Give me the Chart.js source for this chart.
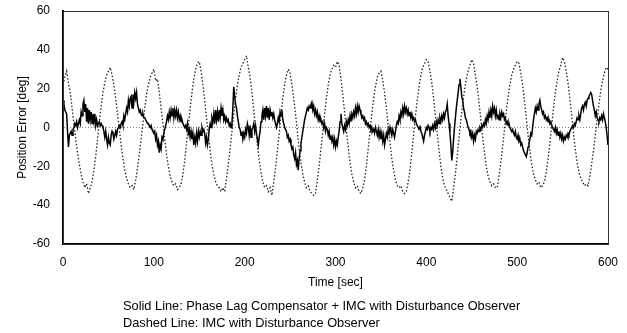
<!DOCTYPE html>
<html>
<head>
<meta charset="utf-8">
<script src="https://cdn.jsdelivr.net/npm/chart.js@4/dist/chart.umd.min.js"></script>
<style>
  body { margin: 0; background: #fff; }
  #wrap { position: relative; width: 627px; height: 333px; }
  .note { position: absolute; left: 123px; font: 12.8px "Liberation Sans", Arial, sans-serif; color: #000; line-height: 17px; white-space: nowrap; }
</style>
</head>
<body>
<div id="wrap">
  <canvas id="chart" width="627" height="333"></canvas>
  <div class="note" style="top:297px">Solid Line: Phase Lag Compensator + IMC with Disturbance Observer</div>
  <div class="note" style="top:314px">Dashed Line: IMC with Disturbance Observer</div>
</div>
<script>
// solid line: phase lag compensator + IMC with DOB, one value per second (0..600 s)
const solidV = [
  14, 12, 9, 8, 7, -2, -10, -4, -3, -2,
  -4, -1, 0, 2, 1, 3, 0, 2, 4, 2,
  8, 6, 12, 14, 8, 12, 3, 10, 2, 9,
  4, 8, 2, 7, 3, 7, 1, 4, 1, 2,
  3, 1, 2, 1, 0, -2, -5, -2, -6, -9,
  -5, -8, -9, -4, -2, -3, -6, -4, -2, -4,
  -1, 0, 1, 0, 2, 3, 1, 6, 4, 7,
  10, 8, 14, 11, 15, 16, 10, 17, 13, 18,
  15, 18, 12, 10, 8, 9, 7, 6, 7, 5,
  5, 4, 3, 2, 2, 1, 0, 1, -1, -2,
  -3, -2, -6, -4, -9, -7, -13, -9, -11, -5,
  -6, -3, -1, 1, 3, 6, 4, 8, 5, 9,
  6, 10, 5, 9, 6, 9, 5, 8, 4, 6,
  3, 4, 2, 1, 0, 1, -1, 2, -3, -1,
  -5, -2, -6, -3, -9, -5, -8, -3, -7, -2,
  -5, -2, -4, 0, -2, -1, -3, -8, -5, -9,
  -6, -1, 2, 0, 5, 3, 7, 2, 9, 4,
  8, 3, 9, 5, 10, 6, 9, 4, 6, 3,
  5, 3, 4, 1, 2, 0, 2, 10, 21, 16,
  12, 10, 6, 3, 0, -1, -4, -2, -6, -3,
  -5, -1, -3, 2, 0, -4, 1, -5, -1, 0,
  2, -2, 1, -3, -6, -9, -5, -2, 3, 6,
  9, 4, 10, 6, 11, 5, 10, 4, 9, 6,
  8, 5, 7, 4, 2, 0, 2, 5, 3, 8,
  6, 9, 4, 2, 0, -1, -2, -5, -4, -7,
  -6, -9, -11, -10, -14, -16, -13, -19, -17, -22,
  -16, -12, -8, -5, -2, 1, 4, 6, 8, 10,
  9, 11, 10, 12, 13, 9, 11, 7, 9, 6,
  8, 4, 6, 3, 4, 2, 3, 0, 2, -2,
  0, -1, -4, -2, -6, -4, -7, -5, -9, -6,
  -10, -7, -9, -5, -2, 3, 7, 2, 0, -2,
  1, -1, 3, 1, 4, 2, 6, 3, 7, 5,
  8, 6, 10, 7, 11, 8, 11, 9, 7, 5,
  6, 4, 5, 2, 3, 1, 2, 0, 1, -1,
  0, -2, -1, -3, 0, -2, -4, -1, -5, -2,
  -6, -3, -7, -4, -9, -6, -3, -5, -1, -3,
  0, -2, -4, -1, -3, -5, -2, 1, 3, 2,
  6, 4, 8, 6, 10, 7, 11, 8, 10, 7,
  9, 6, 8, 5, 7, 4, 5, 3, 4, 2,
  1, 0, -1, 1, -2, -3, -5, -7, -4, -2,
  0, -1, 1, 0, -2, 0, -1, 1, -1, 2,
  0, 3, 1, 4, 2, 5, 3, 6, 4, 7,
  5, 8, 9, 12, 6, 2, -3, -9, -17, -13,
  -6, 0, 5, 10, 14, 18, 22, 25, 21, 16,
  14, 10, 8, 5, 4, 2, 0, -1, -3, -2,
  -5, -3, -7, -4, -6, -2, -3, -1, -2, 0,
  -1, 1, 0, 2, 1, 4, 2, 6, 4, 8,
  5, 9, 6, 11, 8, 10, 6, 9, 5, 6,
  4, 7, 5, 8, 6, 7, 4, 5, 2, 3,
  1, 2, 0, -1, -2, -1, -3, -4, -2, -5,
  -6, -4, -7, -6, -9, -8, -10, -12, -13, -14,
  -15, -13, -10, -8, -6, -3, -4, 0, 4, 7,
  10, 8, 11, 9, 12, 14, 11, 9, 7, 8,
  5, 6, 4, 5, 3, 4, 2, 3, 1, 0,
  -1, -2, 0, -3, -1, -4, -2, -5, -3, -6,
  -4, -7, -5, -6, -4, -5, -3, -4, -2, -1,
  0, 1, 0, 2, 1, 3, 5, 4, 6, 4,
  7, 10, 11, 9, 12, 13, 11, 14, 15, 16,
  17, 18, 17, 14, 11, 9, 6, 8, 5, 4,
  3, 5, 4, 6, 4, 7, 5, 3, 0, -4,
  -9
];

// dashed line: IMC with DOB only, one value every 2 seconds (0..600 s)
const dashedV = [
  22, 26, 29, 23, 18, 10, 2, -6, -13, -19,
  -24, -28, -31, -29, -34, -31, -28, -22, -15, -6,
  3, 11, 18, 23, 27, 29, 31, 27, 22, 15,
  7, -1, -9, -16, -22, -26, -29, -31, -30, -32,
  -27, -21, -14, -6, 2, 10, 17, 22, 26, 28,
  30, 24, 25, 18, 10, 2, -6, -14, -20, -25,
  -28, -30, -29, -32, -31, -29, -24, -17, -8, 1,
  10, 18, 25, 30, 33, 34, 29, 22, 14, 5,
  -4, -12, -19, -24, -28, -30, -31, -33, -31, -33,
  -26, -19, -11, -2, 7, 15, 22, 27, 31, 33,
  35, 37, 31, 26, 18, 9, 0, -9, -17, -23,
  -28, -31, -30, -33, -31, -35, -28, -21, -12, -3,
  7, 15, 22, 27, 30, 28, 22, 15, 7, -2,
  -11, -18, -24, -28, -31, -30, -33, -34, -35, -34,
  -27, -20, -11, -2, 7, 15, 22, 27, 30, 32,
  31, 34, 32, 25, 17, 8, -1, -10, -18, -24,
  -28, -31, -30, -33, -34, -31, -27, -20, -11, -2,
  7, 15, 21, 26, 28, 29, 24, 18, 10, 1,
  -8, -16, -22, -27, -30, -31, -30, -33, -34, -33,
  -28, -22, -13, -4, 6, 14, 21, 27, 31, 33,
  35, 34, 29, 23, 15, 6, -3, -12, -20, -26,
  -30, -32, -34, -36, -38, -31, -24, -15, -5, 4,
  12, 19, 25, 29, 32, 35, 33, 27, 21, 13,
  4, -5, -13, -20, -25, -28, -30, -29, -31, -31,
  -25, -18, -10, -1, 8, 16, 22, 27, 30, 32,
  34, 33, 28, 22, 14, 5, -4, -12, -19, -24,
  -27, -29, -28, -31, -30, -28, -23, -16, -8, 1,
  10, 18, 24, 29, 32, 36, 34, 29, 23, 15,
  6, -3, -11, -18, -23, -26, -28, -30, -29, -30,
  -25, -19, -12, -4, 4, 12, 19, 24, 28, 31,
  30
];

const solidT = solidV.map((v, i) => i);
const dashedT = dashedV.map((v, i) => i * 2);

const xTicks = [0, 100, 200, 300, 400, 500, 600];
const yTicks = [-60, -40, -20, 0, 20, 40, 60];

Chart.defaults.font.family = '"Liberation Sans", Arial, sans-serif';
Chart.defaults.font.size = 12;
Chart.defaults.color = "#000";

// thin frame on top / right like the original plot box
const frame = {
  id: "frame",
  afterDraw(chart) {
    const a = chart.chartArea;
    const ctx = chart.ctx;
    ctx.save();
    ctx.strokeStyle = "#333";
    ctx.lineWidth = 1;
    ctx.strokeRect(a.left + 0.5, a.top + 0.5, a.right - a.left, a.bottom - a.top);
    ctx.restore();
  }
};

new Chart(document.getElementById("chart"), {
  type: "line",
  data: {
    datasets: [
      {
        label: "Dashed",
        data: dashedT.map((t, i) => ({ x: t, y: dashedV[i] })),
        borderColor: "#222",
        borderWidth: 1.3,
        borderDash: [1.5, 2],
        pointRadius: 0,
        tension: 0
      },
      {
        label: "Solid",
        data: solidT.map((t, i) => ({ x: t, y: solidV[i] })),
        borderColor: "#000",
        borderWidth: 1.5,
        pointRadius: 0,
        tension: 0
      }
    ]
  },
  options: {
    responsive: false,
    animation: false,
    devicePixelRatio: 1,
    layout: { padding: { left: 0, right: 19, top: 11, bottom: 40 } },
    plugins: { legend: { display: false }, tooltip: { enabled: false } },
    scales: {
      x: {
        type: "linear",
        min: 0,
        max: 600,
        afterBuildTicks: s => { s.ticks = xTicks.map(v => ({ value: v })); },
        afterFit: s => { s.height = 49; s.paddingLeft = 0; s.paddingRight = 0; },
        ticks: { padding: 11, maxRotation: 0 },
        grid: { display: false, drawTicks: false },
        border: { display: true, color: "#000", width: 2 },
        title: { display: true, text: "Time [sec]", padding: { top: 0, bottom: 3 } }
      },
      y: {
        min: -60,
        max: 60,
        afterBuildTicks: s => { s.ticks = yTicks.map(v => ({ value: v })); },
        afterFit: s => { s.width = 63; s.paddingTop = 0; s.paddingBottom = 0; },
        ticks: { padding: 13 },
        grid: {
          drawTicks: false,
          color: c => (c.tick && c.tick.value === 0 ? "#888" : "rgba(0,0,0,0)")
        },
        border: { display: true, color: "#000", width: 2, dash: [1, 2] },
        title: { display: true, text: "Position Error [deg]", padding: { top: 15, bottom: 0 } }
      }
    }
  },
  plugins: [frame]
});
</script>
</body>
</html>
